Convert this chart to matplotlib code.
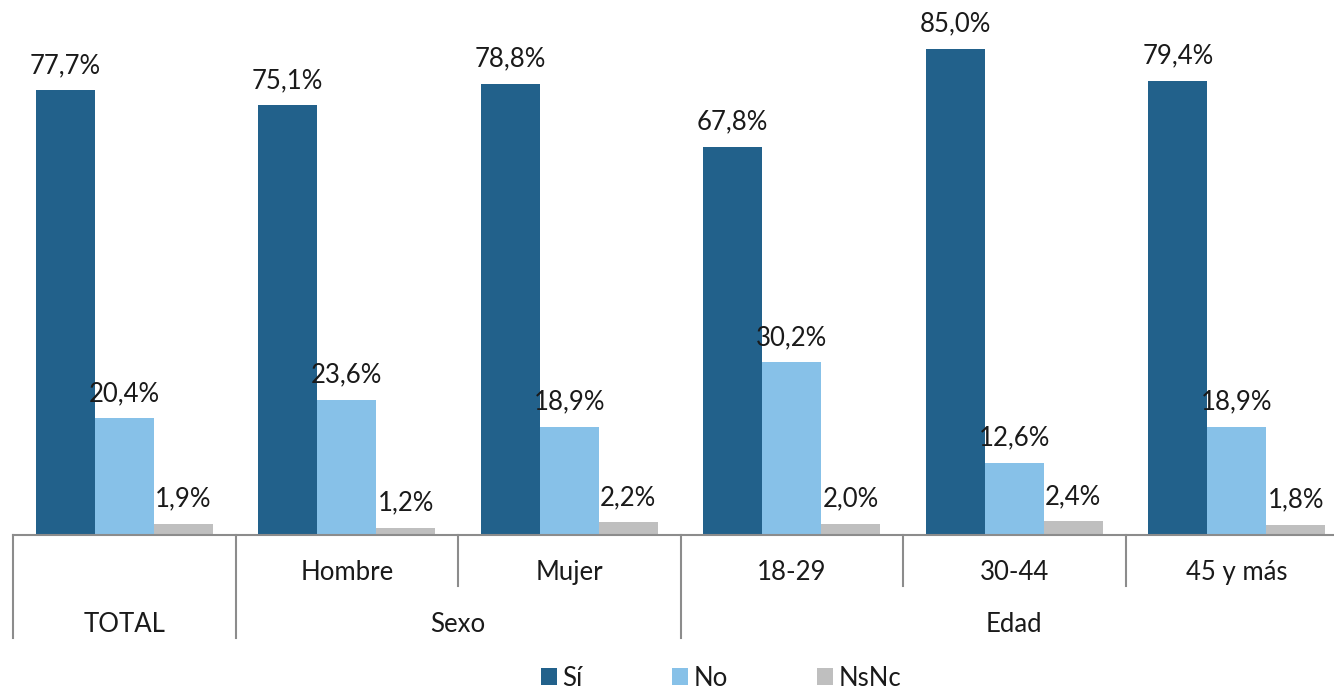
import matplotlib.pyplot as plt
import numpy as np

groups = ["TOTAL", "Hombre", "Mujer", "18-29", "30-44", "45 y más"]
si = [77.7, 75.1, 78.8, 67.8, 85.0, 79.4]
no = [20.4, 23.6, 18.9, 30.2, 12.6, 18.9]
nsnc = [1.9, 1.2, 2.2, 2.0, 2.4, 1.8]
series_names = ["Sí", "No", "NsNc"]
top_level = [("TOTAL", 0, 1), ("Sexo", 1, 3), ("Edad", 3, 6)]

colors = ["#22618B", "#87C1E8", "#BFBFBF"]
plt.rcParams['font.family'] = ['Lato', 'DejaVu Sans']
fs = 18.5
txt_color = "#1a1a1a"

fig = plt.figure(figsize=(13.34, 6.9), dpi=100)
ax = fig.add_axes([13/1334, 155/690, 1335/1334, 535/690])

x = np.arange(len(groups))
w = 0.265
for k, vals in enumerate([si, no, nsnc]):
    pos = x + 0.5 + (k - 1) * w
    ax.bar(pos, vals, w, color=colors[k], label=series_names[k])
    for p, v in zip(pos, vals):
        ax.annotate(f"{v:.1f}%".replace(".", ","), (p, v), xytext=(0, 12.5),
                    textcoords="offset points", ha="center", va="baseline",
                    fontsize=fs, color=txt_color)

ax.set_xlim(0, 6)
ax.set_ylim(0, 93.5)
for s in ["top", "right", "left"]:
    ax.spines[s].set_visible(False)
ax.spines["bottom"].set_color("#8c8c8c")
ax.spines["bottom"].set_linewidth(1.5)
ax.set_yticks([])
ax.set_xticks([])

trans = ax.get_xaxis_transform()
short_y = -51/535
long_y = -103/535
long_edges = {0, 1, 3, 6}
for e in range(7):
    yb = long_y if e in long_edges else short_y
    ax.plot([e, e], [0, yb], transform=trans, color="#8c8c8c", lw=1.5, clip_on=False)

for i, g in enumerate(groups):
    if g == "TOTAL":
        continue
    ax.text(i + 0.5, -45/535, g, transform=trans, ha="center", va="baseline",
            fontsize=fs, color=txt_color)
for name, a, b in top_level:
    ax.text((a + b) / 2, -97/535, name, transform=trans, ha="center", va="baseline",
            fontsize=fs, color=txt_color)

fig.legend(loc="center", bbox_to_anchor=(721/1334, 1 - 678/690), ncol=3, frameon=False,
           fontsize=fs, handlelength=0.62, handleheight=0.62, handletextpad=0.2,
           columnspacing=3.5, labelcolor=txt_color, borderpad=0, borderaxespad=0)

plt.savefig("out.png", dpi=100)
